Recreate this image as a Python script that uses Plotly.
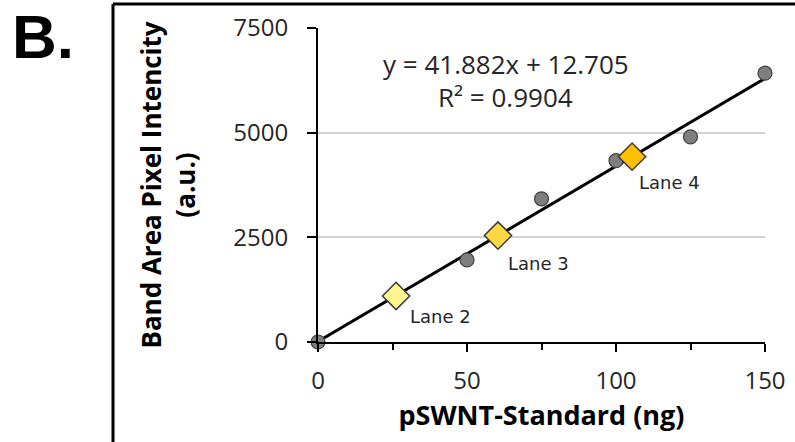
import plotly.graph_objects as go

# ---- data ----
std_x = [0, 50, 75, 100, 125, 150]
std_y = [0, 1960, 3420, 4330, 4900, 6420]

lane_names = ["Lane 2", "Lane 3", "Lane 4"]
lane_x = [26.2, 60.4, 105.4]
lane_y = [1100, 2542, 4427]
lane_colors = ["#FFF58F", "#FFD944", "#FFC000"]

slope = 41.882
intercept = 12.705
r2 = 0.9904
fit_x = [0, 150]
fit_y = [slope * v + intercept for v in fit_x]

x_ticks = [0, 50, 100, 150]
y_ticks = [0, 2500, 5000, 7500]

FONT = "Open Sans"

fig = go.Figure()

fig.add_trace(go.Scatter(
    x=fit_x, y=fit_y, mode="lines",
    line=dict(color="black", width=3),
    showlegend=False, hoverinfo="skip", cliponaxis=False))

fig.add_trace(go.Scatter(
    x=std_x, y=std_y, mode="markers",
    marker=dict(symbol="circle", size=14, color="#7F7F7F",
                line=dict(color="#404040", width=1.2)),
    showlegend=False, cliponaxis=False))

fig.add_trace(go.Scatter(
    x=lane_x, y=lane_y, mode="markers",
    marker=dict(symbol="diamond", size=21, color=lane_colors,
                line=dict(color="#3A3A3A", width=1.5)),
    showlegend=False, cliponaxis=False))

# lane labels
label_offsets = [(12, -21), (8, -28), (5, -26)]
for name, lx, ly, (dx, dy) in zip(lane_names, lane_x, lane_y, label_offsets):
    fig.add_annotation(x=lx, y=ly, text=name, showarrow=False,
                       xanchor="left", yanchor="middle",
                       xshift=dx, yshift=dy,
                       font=dict(family="DejaVu Sans", size=18, color="#262626"))

# equation
fig.add_annotation(xref="paper", yref="paper", x=0.42, y=0.885,
                   text=f"y = {slope}x + {intercept}", showarrow=False,
                   xanchor="center", yanchor="middle",
                   font=dict(family=FONT, size=26, color="#262626"))
fig.add_annotation(xref="paper", yref="paper", x=0.42, y=0.78,
                   text=f"R² = {r2}", showarrow=False,
                   xanchor="center", yanchor="middle",
                   font=dict(family=FONT, size=26, color="#262626"))

# panel letter
fig.add_annotation(xref="paper", yref="paper", x=-0.615, y=0.974,
                   text="<b>B.</b>", showarrow=False,
                   xanchor="center", yanchor="middle",
                   font=dict(family="Liberation Sans", size=62, color="black"))

# frame lines (left and top)
fig.add_shape(type="line", xref="paper", yref="paper",
              x0=-0.4586, x1=-0.4586, y0=-0.35, y1=1.0764,
              line=dict(color="black", width=3))
fig.add_shape(type="line", xref="paper", yref="paper",
              x0=-0.4586, x1=1.1, y0=1.0764, y1=1.0764,
              line=dict(color="black", width=3))

fig.update_xaxes(
    range=[0, 150], tickvals=x_ticks,
    showgrid=False, zeroline=False,
    showline=True, linecolor="black", linewidth=2,
    ticks="outside", ticklen=8, tickwidth=2, tickcolor="black",
    minor=dict(dtick=25, ticks="outside", ticklen=6, tickwidth=2, tickcolor="black", showgrid=False),
    ticklabelstandoff=8,
    tickfont=dict(family=FONT, size=24, color="#262626"),
    title=dict(text="<b>pSWNT-Standard (ng)</b>", standoff=0,
               font=dict(family=FONT, size=27, color="black")),
)
fig.update_yaxes(
    range=[0, 7500], tickvals=y_ticks,
    showgrid=True, gridcolor="#D4D4D4", gridwidth=1.5,
    zeroline=False,
    showline=True, linecolor="black", linewidth=2,
    ticks="outside", ticklen=9, tickwidth=2, tickcolor="black",
    ticklabelstandoff=14,
    tickfont=dict(family=FONT, size=24, color="#262626"),
    title=dict(text="<b>Band Area Pixel Intencity<br>(a.u.)</b>", standoff=30,
               font=dict(family=FONT, size=26, color="black")),
)

fig.update_layout(
    width=795, height=442,
    margin=dict(l=318, r=30, t=28, b=100, autoexpand=False),
    paper_bgcolor="white", plot_bgcolor="white",
    showlegend=False,
)

fig.write_html("out.html", config={"displayModeBar": False},
               post_script="document.body.style.margin='0px';")
